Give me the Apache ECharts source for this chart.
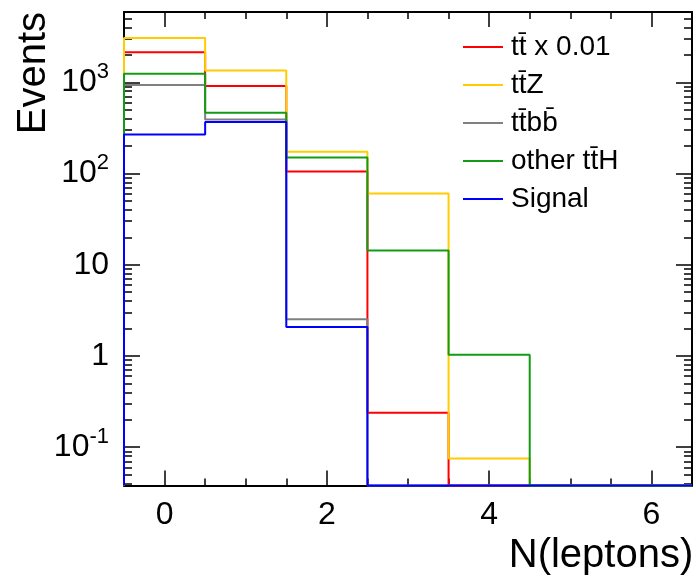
<!DOCTYPE html>
<html><head><meta charset="utf-8">
<script src="https://cdn.jsdelivr.net/npm/echarts@6/dist/echarts.min.js"></script>
<style>html,body{margin:0;padding:0;background:#fff}#c{width:696px;height:576px}</style>
</head><body><div id="c"></div>
<script>
// ---- data ----
const binCenters = [0, 1, 2, 3, 4, 5, 6];
const ttbarScaled = [2130, 913, 105, 0.239, 0, 0, 0];
const ttZ = [3070, 1344, 173, 60.5, 0.0753, 0, 0];
const ttbb = [936, 390, 2.53, 0, 0, 0, 0];
const otherTTH = [1245, 464, 150, 14.3, 1.03, 0, 0];
const signal = [267, 367, 2.08, 0, 0, 0, 0];
const seriesNames = ['t\u0074\u0304 x 0.01', 't\u0074\u0304Z', 't\u0074\u0304b\u0062\u0304', 'other t\u0074\u0304H', 'Signal'];
const seriesColors = ['#ff0000', '#ffcc00', '#808080', '#139b13', '#0000ff'];
const xTickValues = [0, 2, 4, 6];
const xTickLabels = ['0', '2', '4', '6'];
const yTickValues = [0.1, 1, 10, 100, 1000];
const yTickLabels = ['10{sup|-1}', '1', '10', '10{sup|2}', '10{sup|3}'];
const xRange = [-0.5, 6.5];
const yRange = [0.038, 5900];

// ---- helpers ----
const binWidth = binCenters[1] - binCenters[0];
function stepData(vals) {
  const floor = yRange[0];
  const pts = [[binCenters[0] - binWidth / 2, floor]];
  vals.forEach((v, i) => {
    const y = v > 0 ? v : floor;
    pts.push([binCenters[i] - binWidth / 2, y]);
    pts.push([binCenters[i] + binWidth / 2, y]);
  });
  pts.push([binCenters[binCenters.length - 1] + binWidth / 2, floor]);
  return pts;
}
const yMinor = [];
for (let d = -2; d <= 3; d++) for (let m = 2; m <= 9; m++) {
  const v = m * Math.pow(10, d);
  if (v > yRange[0] && v < yRange[1]) yMinor.push(+v.toPrecision(3));
}
const xMinor = [];
for (let v = xRange[0] + 0.5; v < xRange[1]; v += 0.5) xMinor.push(v);

const font = 'Liberation Sans, Arial, Helvetica, sans-serif';
const black = '#000';
function yAx(pos, ticks, len, line, label) {
  return {
    type: 'log', logBase: 10, min: yRange[0], max: yRange[1], position: pos,
    axisLine: { show: line, onZero: false, lineStyle: { color: black, width: 2 } },
    axisTick: { show: true, inside: true, length: len, customValues: ticks, lineStyle: { color: black, width: 1.5 } },
    minorTick: { show: false }, splitLine: { show: false },
    axisLabel: label ? {
      show: true, customValues: yTickValues, margin: 15, color: black,
      fontFamily: font, fontSize: 32, lineHeight: 43,
      formatter: v => yTickLabels[yTickValues.findIndex(t => Math.abs(Math.log10(t) - Math.log10(v)) < 1e-6)],
      rich: { sup: { fontSize: 22, lineHeight: 22, verticalAlign: 'top', fontFamily: font, color: black } }
    } : { show: false }
  };
}
function xAx(pos, ticks, len, line, label) {
  return {
    type: 'value', min: xRange[0], max: xRange[1], position: pos,
    axisLine: { show: line, onZero: false, lineStyle: { color: black, width: 2 } },
    axisTick: { show: true, inside: true, length: len, customValues: ticks, lineStyle: { color: black, width: 1.5 } },
    splitLine: { show: false },
    axisLabel: label ? {
      show: true, customValues: xTickValues, margin: 14, color: black,
      fontFamily: font, fontSize: 32,
      formatter: v => xTickLabels[xTickValues.indexOf(Math.round(v))]
    } : { show: false }
  };
}

const xAxes = [xAx('bottom', xTickValues, 15, true, true), xAx('bottom', xMinor, 7, false, false),
  xAx('top', xTickValues, 15, true, false), xAx('top', xMinor, 7, false, false)];
Object.assign(xAxes[0], {
  name: 'N(leptons)', nameLocation: 'middle', nameGap: 45,
  nameTextStyle: { fontSize: 40, lineHeight: 40, fontFamily: font, color: black, padding: [0, 0, 0, 386] }
});
const yAxes = [yAx('left', yTickValues, 16, true, true), yAx('left', yMinor, 8, false, false),
  yAx('right', yTickValues, 16, true, false), yAx('right', yMinor, 8, false, false)];
Object.assign(yAxes[0], {
  name: 'Events', nameLocation: 'end', nameGap: 0, nameRotate: 90,
  nameTextStyle: { fontSize: 40, fontFamily: font, color: black, align: 'right', verticalAlign: 'bottom', padding: [0, 0, 70, 0] }
});

const allVals = [ttbarScaled, ttZ, ttbb, otherTTH, signal];
const series = allVals.map((vals, i) => ({
  name: seriesNames[i], type: 'line', data: stepData(vals), xAxisIndex: 0, yAxisIndex: 0,
  symbol: 'none', showSymbol: false, clip: false, color: seriesColors[i],
  lineStyle: { color: seriesColors[i], width: 2 }, z: 3 + i
}));

const chart = echarts.init(document.getElementById('c'), null, { renderer: 'canvas' });
chart.setOption({
  animation: false,
  backgroundColor: '#fff',
  grid: { left: 124, right: 4, top: 12, bottom: 90.5, containLabel: false, outerBoundsMode: 'none' },
  legend: {
    orient: 'vertical', left: 458, top: 27, itemWidth: 40, itemHeight: 2, itemGap: 8,
    icon: 'rect', data: seriesNames,
    textStyle: { fontSize: 28, fontFamily: font, color: black, lineHeight: 30, padding: [0, 0, 0, 3] }
  },
  xAxis: xAxes,
  yAxis: yAxes,
  series: series
});
</script></body></html>
